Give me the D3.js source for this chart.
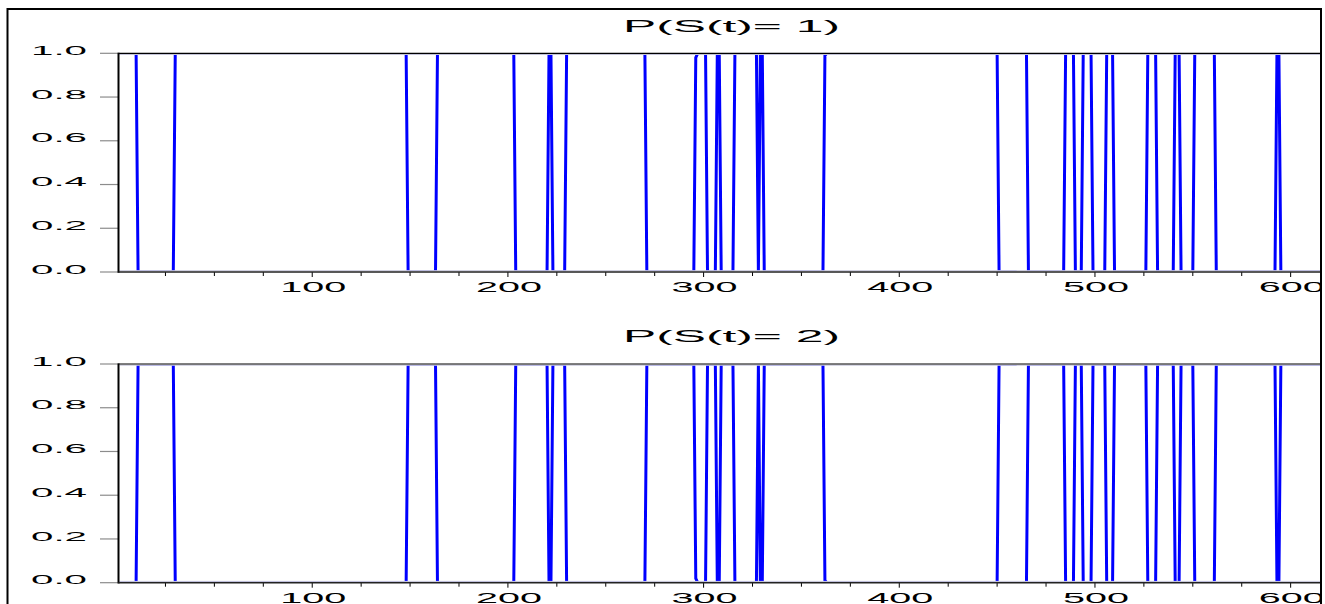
<html>
<!-- regime probability chart, two panels -->
<script src="https://cdn.jsdelivr.net/npm/d3@7"></script>

<style>
  body {margin: 0; background: white;}
  text {font-family: "Liberation Sans", Arial, sans-serif; fill: black;}
</style>

<body>
<svg id="chart" width="1325" height="604"></svg>

<script>
// number of observations on the x axis
const nObs = 615;

const runStart = [1, 11, 30, 149, 164, 204, 221, 223, 230, 271, 296, 302, 307, 309, 316, 328, 329, 331, 362,
                  451, 463, 466, 485, 490, 494, 499, 506, 510, 527, 532, 541, 544, 551, 562, 593, 595];
const runValue = [1, 0, 1, 0, 1, 0, 1, 0, 1, 0, 1, 0, 1, 0, 1, 0, 1, 0, 1,
                  0, 1, 0, 1, 0, 1, 0, 1, 0, 1, 0, 1, 0, 1, 0, 1, 0];

// single points that stop short of 1
const partialObs = [296, 362];
const partialValue = [0.98, 0.99];

// observations where no line is drawn
const gapObs = [461, 462];

// axis ticks
const yTicks = [0.0, 0.2, 0.4, 0.6, 0.8, 1.0];
const xLabelTicks = [100, 200, 300, 400, 500, 600];
const xMinorTicks = [25, 50, 75, 100, 125, 150, 175, 200, 225, 250, 275, 300, 325, 350,
                     375, 400, 425, 450, 475, 500, 525, 550, 575, 600];

const titles = ["P(S(t)= 1)", "P(S(t)= 2)"];

// build P(S(t)=1) for each observation
var p1 = [];
for (var t = 1; t <= nObs; t++) {
  var k = 0;
  for (var j = 0; j < runStart.length; j++) { if (runStart[j] <= t) k = j; }
  var v = runValue[k];
  var pi = partialObs.indexOf(t);
  if (pi >= 0) v = partialValue[pi];
  if (gapObs.indexOf(t) >= 0) v = NaN;
  p1.push({t: t, v: v});
}
var p2 = p1.map(function(d) { return {t: d.t, v: 1 - d.v}; });

var svg = d3.select("#chart");

// clip everything to the outer frame
svg.append("clipPath").attr("id", "frameclip")
  .append("rect").attr("x", 0).attr("y", 0).attr("width", 1321).attr("height", 604);

var root = svg.append("g").attr("clip-path", "url(#frameclip)");

const xs = d3.scaleLinear().domain([1, nObs]).range([118.5, 1320]);

var panels = [
  {data: p1, top: 53.3, bottom: 272, title: titles[0], titleY: 31.5},
  {data: p2, top: 364, bottom: 582.7, title: titles[1], titleY: 341.5}
];

panels.forEach(function(p, i) {
  var ys = d3.scaleLinear().domain([0, 1]).range([p.bottom, p.top]);
  var g = root.append("g");

  // series is clipped to the inside of the plot box, so runs at 0 and 1 sit under the frame
  svg.append("clipPath").attr("id", "plotclip" + i)
    .append("rect")
      .attr("x", 119.5).attr("y", p.top + 1.2)
      .attr("width", 1320 - 119.5).attr("height", p.bottom - p.top - 2.4);

  // title
  g.append("text")
    .attr("x", 623).attr("y", p.titleY)
    .attr("font-size", "16px")
    .attr("textLength", 217).attr("lengthAdjust", "spacingAndGlyphs")
    .text(p.title);

  // the series
  var line = d3.line()
    .defined(function(d) { return !isNaN(d.v); })
    .x(function(d) { return xs(d.t); })
    .y(function(d) { return ys(d.v); });

  g.append("path")
    .datum(p.data)
    .attr("clip-path", "url(#plotclip" + i + ")")
    .attr("d", line)
    .attr("fill", "none")
    .attr("stroke", "#0000ff")
    .attr("stroke-width", 3)
    .attr("stroke-linejoin", "miter");

  // faint inner edge lines, like the reference
  g.append("line")
    .attr("x1", 119.5).attr("x2", 1320).attr("y1", p.top + 1.2).attr("y2", p.top + 1.2)
    .attr("stroke", "#c4c4d8").attr("stroke-width", 1);
  g.append("line")
    .attr("x1", 119.5).attr("x2", 1320).attr("y1", p.bottom - 1.3).attr("y2", p.bottom - 1.3)
    .attr("stroke", "#c4c4d8").attr("stroke-width", 1);

  // y ticks and labels
  g.selectAll(".ytick").data(yTicks).enter().append("line")
    .attr("x1", 100).attr("x2", 118.5)
    .attr("y1", function(d) { return ys(d); })
    .attr("y2", function(d) { return ys(d); })
    .attr("stroke", "#8c8c8c").attr("stroke-width", 1.2);

  g.selectAll(".ylab").data(yTicks).enter().append("text")
    .attr("x", 31).attr("y", function(d) { return ys(d) + 1.6; })
    .attr("font-size", "12px")
    .attr("textLength", 56).attr("lengthAdjust", "spacingAndGlyphs")
    .text(function(d) { return d.toFixed(1); });

  // x ticks and labels
  g.selectAll(".xtick").data(xMinorTicks).enter().append("line")
    .attr("x1", function(d) { return xs(d); })
    .attr("x2", function(d) { return xs(d); })
    .attr("y1", p.bottom)
    .attr("y2", function(d) { return p.bottom + (d % 100 == 0 ? 5 : 4); })
    .attr("stroke", "black").attr("stroke-width", 1);

  g.selectAll(".xlab").data(xLabelTicks).enter().append("text")
    .attr("x", function(d) { return xs(d) - 32; })
    .attr("y", p.bottom + 20)
    .attr("font-size", "14px")
    .attr("textLength", 66).attr("lengthAdjust", "spacingAndGlyphs")
    .text(function(d) { return d; });

  // plot box: top line, left axis, bottom axis
  g.append("line")
    .attr("x1", 118.5).attr("x2", 1321).attr("y1", p.top).attr("y2", p.top)
    .attr("stroke", "black").attr("stroke-width", 1.2);
  g.append("line")
    .attr("x1", 118.5).attr("x2", 118.5).attr("y1", p.top - 0.6).attr("y2", p.bottom + 0.8)
    .attr("stroke", "black").attr("stroke-width", 2);
  g.append("line")
    .attr("x1", 118.5).attr("x2", 1321).attr("y1", p.bottom).attr("y2", p.bottom)
    .attr("stroke", "#222").attr("stroke-width", 1.6);
});

// outer frame
svg.append("path")
  .attr("d", "M7.5,620 V9 H1321 V620")
  .attr("fill", "none")
  .attr("stroke", "black")
  .attr("stroke-width", 2);
</script>
</body>
</html>
